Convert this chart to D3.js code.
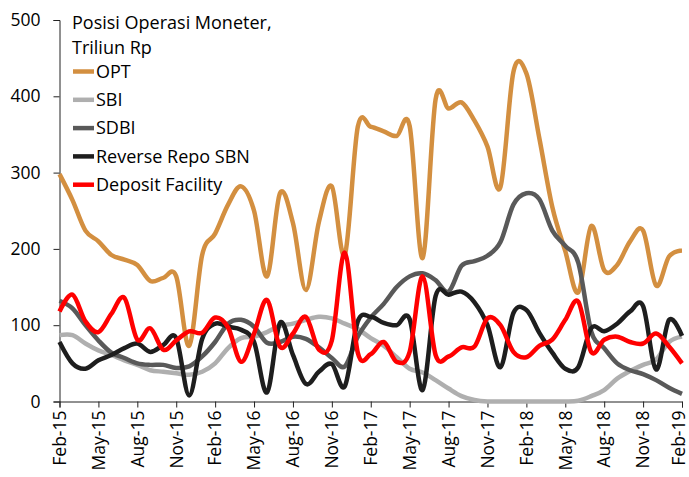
<!DOCTYPE html>
<meta charset="utf-8">
<style>
body { margin: 0; background: #fff; }
svg text { font-family: "Open Sans", sans-serif; fill: #000; }
.axis path, .axis line { stroke: #222; }
</style>
<body>
<svg id="chart" width="689" height="477"></svg>
<script src="https://cdnjs.cloudflare.com/ajax/libs/d3/7.8.5/d3.min.js"></script>
<script>
const months = [
  'Feb-15','Mar-15','Apr-15','May-15','Jun-15','Jul-15','Aug-15','Sep-15','Oct-15','Nov-15','Dec-15','Jan-16',
  'Feb-16','Mar-16','Apr-16','May-16','Jun-16','Jul-16','Aug-16','Sep-16','Oct-16','Nov-16','Dec-16','Jan-17',
  'Feb-17','Mar-17','Apr-17','May-17','Jun-17','Jul-17','Aug-17','Sep-17','Oct-17','Nov-17','Dec-17','Jan-18',
  'Feb-18','Mar-18','Apr-18','May-18','Jun-18','Jul-18','Aug-18','Sep-18','Oct-18','Nov-18','Dec-18','Jan-19',
  'Feb-19'
]
const xTicks = ['Feb-15','May-15','Aug-15','Nov-15','Feb-16','May-16','Aug-16','Nov-16','Feb-17',
  'May-17','Aug-17','Nov-17','Feb-18','May-18','Aug-18','Nov-18','Feb-19']
const yTicks = [0, 100, 200, 300, 400, 500]

const opt = [298,264,224,210,192,186,179,158,162,164,73,192,220,258,282,250,164,273,234,146,235,282,192,360,
  360,354,348,361,188,396,384,392,368,334,281,432,430,345,255,197,143,230,172,179,210,224,152,190,198]
const sbi = [87,87,76,67,61,54,48,41,39,37,35,39,50,70,83,85,91,99,102,107,111,109,102,95,
  83,73,58,43,38,28,17,7,2,0,0,0,0,0,0,0,1,7,15,30,40,48,55,78,85]
const sdbi = [132,122,100,80,64,57,50,48,48,44,46,59,78,102,107,98,77,78,85,82,71,57,46,85,
  110,128,150,164,168,159,144,178,184,191,209,258,273,265,224,204,182,92,70,50,41,36,28,18,10]
const reverseRepo = [78,50,43,54,61,70,76,65,74,83,8,82,102,98,94,78,12,103,61,23,39,49,20,105,
  111,103,100,108,15,138,140,144,130,100,45,116,120,90,64,43,45,96,92,102,118,125,42,107,86]
const depositFacility = [118,140,105,91,115,136,81,96,68,80,92,90,110,97,52,89,133,72,89,111,68,80,195,64,
  62,78,52,65,164,61,59,71,72,109,100,65,58,73,81,107,131,65,81,85,78,76,89,72,50]

const seriesNames = ['OPT', 'SBI', 'SDBI', 'Reverse Repo SBN', 'Deposit Facility']
const seriesValues = [opt, sbi, sdbi, reverseRepo, depositFacility]
const colors = ['#D38F40', '#AFAFAF', '#595959', '#1E1E1E', '#FF0000']

const svg = d3.select('#chart')
const [x0, x1, yTop, yBottom] = [59.5, 682, 20, 401.5]

const x = d3.scalePoint().domain(months).range([x0, x1])
const y = d3.scaleLinear().domain([0, 500]).range([yBottom, yTop])

// axes
const yAxis = svg.append('g')
    .attr('class', 'axis')
    .attr('transform', `translate(${x0},0)`)
    .call(d3.axisLeft(y).tickValues(yTicks).tickSize(6).tickPadding(13))
yAxis.selectAll('text').style('font-size', '17.5px')

const xAxis = svg.append('g')
    .attr('class', 'axis')
    .attr('transform', `translate(0,${yBottom})`)
    .call(d3.axisBottom(x).tickValues(xTicks).tickSize(6))
xAxis.selectAll('text')
    .attr('transform', 'rotate(-90)')
    .attr('x', -9)
    .attr('y', (d, i) => i === xTicks.length - 1 ? -3 : 0)  // keep the last one inside the edge
    .attr('dy', '0.33em')
    .style('text-anchor', 'end')
    .style('font-size', '17.5px')
svg.selectAll('.axis .domain').attr('stroke-width', 1)

// lines
const line = d3.line()
    .x((d, i) => x(months[i]))
    .y(d => y(d))
    .curve(d3.curveCardinal.tension(0))

svg.append('g').selectAll('path')
    .data(seriesValues)
  .enter().append('path')
    .attr('d', line)
    .attr('fill', 'none')
    .attr('stroke', (d, i) => colors[i])
    .attr('stroke-width', 4.5)
    .attr('stroke-linejoin', 'round')

// legend
const legend = svg.append('g').attr('transform', 'translate(72,0)')
legend.append('text').attr('x', 0).attr('y', 28.5).style('font-size', '18px').text('Posisi Operasi Moneter,')
legend.append('text').attr('x', 0).attr('y', 54).style('font-size', '18px').text('Triliun Rp')

const item = legend.selectAll('g.item')
    .data(seriesNames)
  .enter().append('g')
    .attr('class', 'item')
    .attr('transform', (d, i) => `translate(0,${71.5 + i * 28.3})`)
item.append('line')
    .attr('x1', 1).attr('x2', 22)
    .attr('stroke', (d, i) => colors[i])
    .attr('stroke-width', 4.5)
item.append('text')
    .attr('x', 24)
    .attr('dy', '0.35em')
    .style('font-size', '18px')
    .text(d => d)
</script>
</body>
